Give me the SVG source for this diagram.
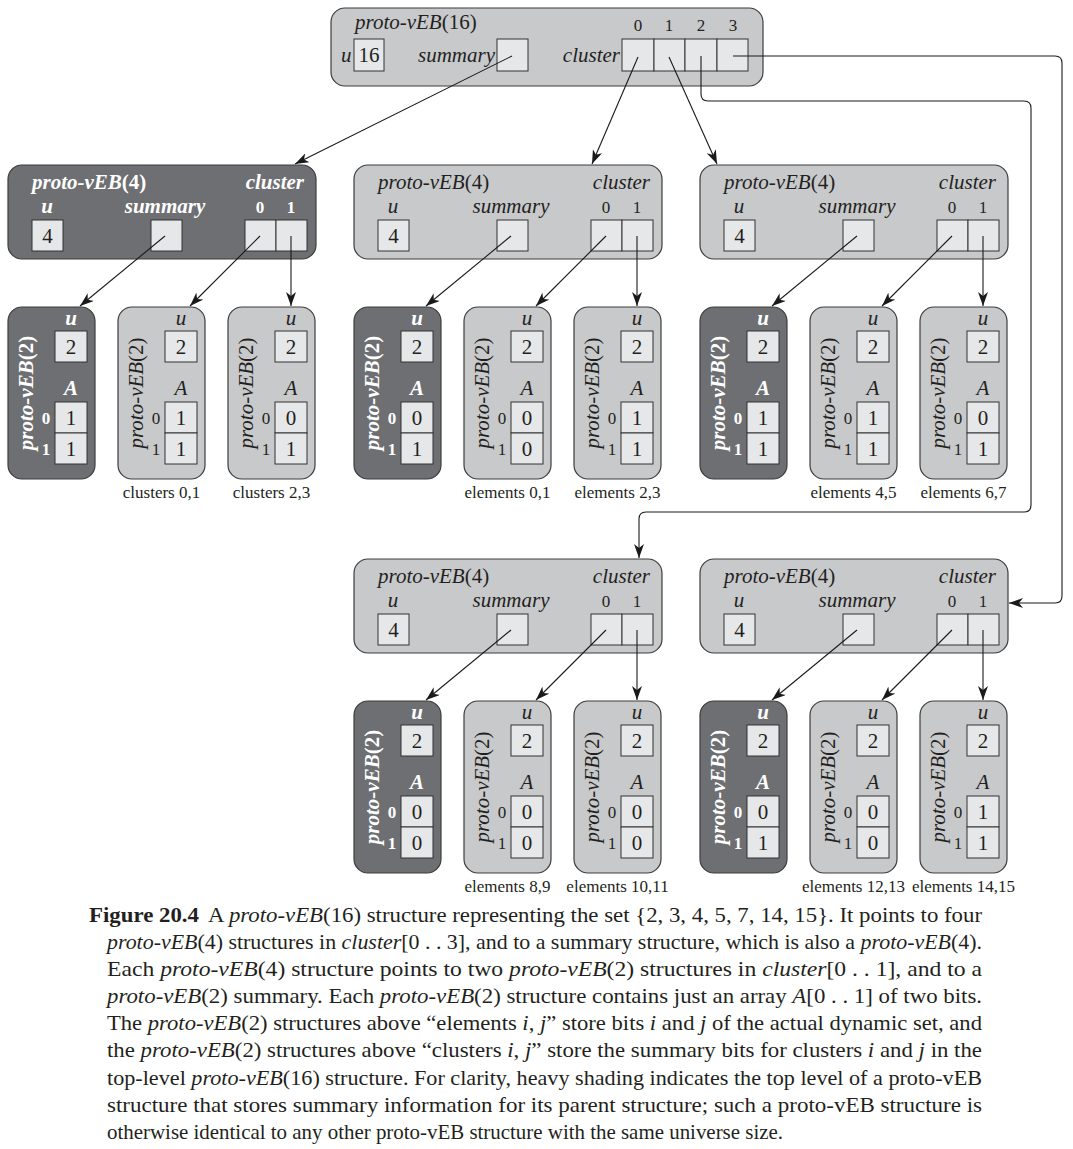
<svg xmlns="http://www.w3.org/2000/svg" width="1073" height="1149" viewBox="0 0 1073 1149">
<style>
.nl{fill:#c8c9cb;stroke:#3c3c3c;stroke-width:1.2}
.nd{fill:#6e6f72;stroke:#3c3c3c;stroke-width:1.2}
.bx{fill:#e6e7e8;stroke:#333;stroke-width:1}
.t{font-family:"Liberation Serif",serif;font-size:21px;fill:#231f20}
.i{font-style:italic}
.w{fill:#fff;font-weight:bold}
.s{font-size:17px}
.c{text-anchor:middle}
.r{text-anchor:end}
.lb{font-family:"Liberation Serif",serif;font-size:17px;fill:#231f20;text-anchor:middle}
.cap{font-family:"Liberation Serif",serif;font-size:21px;fill:#231f20}
.e{stroke:#1a1a1a;stroke-width:1.1;fill:none;marker-end:url(#ah)}
</style>
<defs>
<marker id="ah" markerUnits="userSpaceOnUse" viewBox="0 0 14 10" refX="14" refY="5" markerWidth="14" markerHeight="10" orient="auto">
<path d="M0,0 L14,5 L0,10 L4,5 z" fill="#1a1a1a"/>
</marker>
<g id="p2l">
<rect class="nl" x="0" y="0" width="87" height="172" rx="14"/>
<text class="t i c" x="63" y="18">u</text>
<rect class="bx" x="47" y="24" width="32" height="31"/>
<text class="t c" x="63" y="47">2</text>
<text class="t i c" x="63" y="88">A</text>
<rect class="bx" x="47" y="95" width="32" height="31"/>
<rect class="bx" x="47" y="126" width="32" height="31"/>
<text class="t s c" x="38" y="117">0</text>
<text class="t s c" x="38" y="148">1</text>
<text class="t c" transform="translate(25,86) rotate(-90)"><tspan class="i">proto-vEB</tspan>(2)</text>
</g>
<g id="p2d">
<rect class="nd" x="0" y="0" width="87" height="172" rx="14"/>
<text class="t i w c" x="63" y="18">u</text>
<rect class="bx" x="47" y="24" width="32" height="31"/>
<text class="t c" x="63" y="47">2</text>
<text class="t i w c" x="63" y="88">A</text>
<rect class="bx" x="47" y="95" width="32" height="31"/>
<rect class="bx" x="47" y="126" width="32" height="31"/>
<text class="t s w c" x="38" y="117">0</text>
<text class="t s w c" x="38" y="148">1</text>
<text class="t w c" transform="translate(25,86) rotate(-90)"><tspan class="i">proto-vEB</tspan>(2)</text>
</g>
<g id="p4l">
<rect class="nl" x="0" y="0" width="308" height="94" rx="14"/>
<text class="t" x="24" y="24"><tspan class="i">proto-vEB</tspan>(4)</text>
<text class="t i r" x="296" y="24">cluster</text>
<text class="t i c" x="39" y="48">u</text>
<text class="t i c" x="157" y="48">summary</text>
<text class="t s c" x="252" y="48">0</text>
<text class="t s c" x="283" y="48">1</text>
<rect class="bx" x="24" y="55" width="31" height="31"/>
<text class="t c" x="39.5" y="78">4</text>
<rect class="bx" x="143" y="55" width="31" height="31"/>
<rect class="bx" x="237" y="55" width="31" height="31"/>
<rect class="bx" x="268" y="55" width="31" height="31"/>
</g>
</defs>

<g id="n16">
<rect class="nl" x="331" y="8" width="432" height="78" rx="14"/>
<text class="t" x="355" y="29"><tspan class="i">proto-vEB</tspan>(16)</text>
<text class="t i" x="341" y="62">u</text>
<rect class="bx" x="354" y="39" width="30" height="32"/>
<text class="t c" x="369" y="62">16</text>
<text class="t i r" x="495" y="62">summary</text>
<rect class="bx" x="497" y="39" width="31" height="32"/>
<text class="t i r" x="620" y="62">cluster</text>
<rect class="bx" x="622" y="39" width="32" height="32"/>
<rect class="bx" x="654" y="39" width="31" height="32"/>
<rect class="bx" x="685" y="39" width="32" height="32"/>
<rect class="bx" x="717" y="39" width="31" height="32"/>
<text class="t s c" x="638" y="31">0</text>
<text class="t s c" x="669" y="31">1</text>
<text class="t s c" x="701" y="31">2</text>
<text class="t s c" x="733" y="31">3</text>
</g>

<g id="p4-summary" transform="translate(8,165)">
<rect class="nd" x="0" y="0" width="308" height="94" rx="14"/>
<text class="t w" x="24" y="24"><tspan class="i">proto-vEB</tspan>(4)</text>
<text class="t i w r" x="296" y="24">cluster</text>
<text class="t i w c" x="39" y="48">u</text>
<text class="t i w c" x="157" y="48">summary</text>
<text class="t s w c" x="252" y="48">0</text>
<text class="t s w c" x="283" y="48">1</text>
<rect class="bx" x="24" y="55" width="31" height="31"/>
<text class="t c" x="39.5" y="78">4</text>
<rect class="bx" x="143" y="55" width="31" height="31"/>
<rect class="bx" x="237" y="55" width="31" height="31"/>
<rect class="bx" x="268" y="55" width="31" height="31"/>
</g>
<g id="p4-c0"><use href="#p4l" x="354" y="165"/></g>
<g id="p4-c1"><use href="#p4l" x="700" y="165"/></g>
<g id="p4-c2"><use href="#p4l" x="354" y="559"/></g>
<g id="p4-c3"><use href="#p4l" x="700" y="559"/></g>

<g id="s-sum" transform="translate(8,307)"><use href="#p2d"/><text class="t c" x="63" y="118">1</text><text class="t c" x="63" y="149">1</text></g>
<g id="s-c0" transform="translate(118,307)"><use href="#p2l"/><text class="t c" x="63" y="118">1</text><text class="t c" x="63" y="149">1</text><text class="lb" x="43.5" y="191">clusters 0,1</text></g>
<g id="s-c1" transform="translate(228,307)"><use href="#p2l"/><text class="t c" x="63" y="118">0</text><text class="t c" x="63" y="149">1</text><text class="lb" x="43.5" y="191">clusters 2,3</text></g>

<g id="c0-sum" transform="translate(354,307)"><use href="#p2d"/><text class="t c" x="63" y="118">0</text><text class="t c" x="63" y="149">1</text></g>
<g id="c0-c0" transform="translate(464,307)"><use href="#p2l"/><text class="t c" x="63" y="118">0</text><text class="t c" x="63" y="149">0</text><text class="lb" x="43.5" y="191">elements 0,1</text></g>
<g id="c0-c1" transform="translate(574,307)"><use href="#p2l"/><text class="t c" x="63" y="118">1</text><text class="t c" x="63" y="149">1</text><text class="lb" x="43.5" y="191">elements 2,3</text></g>

<g id="c1-sum" transform="translate(700,307)"><use href="#p2d"/><text class="t c" x="63" y="118">1</text><text class="t c" x="63" y="149">1</text></g>
<g id="c1-c0" transform="translate(810,307)"><use href="#p2l"/><text class="t c" x="63" y="118">1</text><text class="t c" x="63" y="149">1</text><text class="lb" x="43.5" y="191">elements 4,5</text></g>
<g id="c1-c1" transform="translate(920,307)"><use href="#p2l"/><text class="t c" x="63" y="118">0</text><text class="t c" x="63" y="149">1</text><text class="lb" x="43.5" y="191">elements 6,7</text></g>

<g id="c2-sum" transform="translate(354,701)"><use href="#p2d"/><text class="t c" x="63" y="118">0</text><text class="t c" x="63" y="149">0</text></g>
<g id="c2-c0" transform="translate(464,701)"><use href="#p2l"/><text class="t c" x="63" y="118">0</text><text class="t c" x="63" y="149">0</text><text class="lb" x="43.5" y="191">elements 8,9</text></g>
<g id="c2-c1" transform="translate(574,701)"><use href="#p2l"/><text class="t c" x="63" y="118">0</text><text class="t c" x="63" y="149">0</text><text class="lb" x="43.5" y="191">elements 10,11</text></g>

<g id="c3-sum" transform="translate(700,701)"><use href="#p2d"/><text class="t c" x="63" y="118">0</text><text class="t c" x="63" y="149">1</text></g>
<g id="c3-c0" transform="translate(810,701)"><use href="#p2l"/><text class="t c" x="63" y="118">0</text><text class="t c" x="63" y="149">0</text><text class="lb" x="43.5" y="191">elements 12,13</text></g>
<g id="c3-c1" transform="translate(920,701)"><use href="#p2l"/><text class="t c" x="63" y="118">1</text><text class="t c" x="63" y="149">1</text><text class="lb" x="43.5" y="191">elements 14,15</text></g>

<g id="connectors">
<path class="e" d="M512,56 L295,164"/>
<path class="e" d="M638,57 L592,164"/>
<path class="e" d="M669,57 L717,164"/>
<path class="e" d="M701,56 V94 Q701,101 708,101 H1024 Q1031,101 1031,108 V505 Q1031,512 1024,512 H646 Q639,512 639,519 V558"/>
<path class="e" d="M733,56 H1055 Q1062,56 1062,63 V596 Q1062,603 1055,603 H1009"/>

<path class="e" d="M165,236 L80,306"/>
<path class="e" d="M260,236 L190,306"/>
<path class="e" d="M291,236 V306"/>

<path class="e" d="M511,236 L426,306"/>
<path class="e" d="M606,236 L536,306"/>
<path class="e" d="M637,236 V306"/>

<path class="e" d="M857,236 L772,306"/>
<path class="e" d="M952,236 L882,306"/>
<path class="e" d="M983,236 V306"/>

<path class="e" d="M511,630 L426,700"/>
<path class="e" d="M606,630 L536,700"/>
<path class="e" d="M637,630 V700"/>

<path class="e" d="M857,630 L772,700"/>
<path class="e" d="M952,630 L882,700"/>
<path class="e" d="M983,630 V700"/>
</g>

<g id="caption">
<text class="cap" x="89" y="922" font-weight="bold" textLength="110" lengthAdjust="spacingAndGlyphs">Figure 20.4</text>
<text class="cap" x="208" y="922" textLength="774" lengthAdjust="spacingAndGlyphs">A <tspan class="i">proto-vEB</tspan>(16) structure representing the set {2, 3, 4, 5, 7, 14, 15}. It points to four</text>
<text class="cap" x="107" y="949" textLength="875" lengthAdjust="spacingAndGlyphs"><tspan class="i">proto-vEB</tspan>(4) structures in <tspan class="i">cluster</tspan>[0 . . 3], and to a summary structure, which is also a <tspan class="i">proto-vEB</tspan>(4).</text>
<text class="cap" x="107" y="976" textLength="875" lengthAdjust="spacingAndGlyphs">Each <tspan class="i">proto-vEB</tspan>(4) structure points to two <tspan class="i">proto-vEB</tspan>(2) structures in <tspan class="i">cluster</tspan>[0 . . 1], and to a</text>
<text class="cap" x="107" y="1003" textLength="875" lengthAdjust="spacingAndGlyphs"><tspan class="i">proto-vEB</tspan>(2) summary. Each <tspan class="i">proto-vEB</tspan>(2) structure contains just an array <tspan class="i">A</tspan>[0 . . 1] of two bits.</text>
<text class="cap" x="107" y="1030" textLength="875" lengthAdjust="spacingAndGlyphs">The <tspan class="i">proto-vEB</tspan>(2) structures above “elements <tspan class="i">i</tspan>, <tspan class="i">j</tspan>” store bits <tspan class="i">i</tspan> and <tspan class="i">j</tspan> of the actual dynamic set, and</text>
<text class="cap" x="107" y="1057" textLength="875" lengthAdjust="spacingAndGlyphs">the <tspan class="i">proto-vEB</tspan>(2) structures above “clusters <tspan class="i">i</tspan>, <tspan class="i">j</tspan>” store the summary bits for clusters <tspan class="i">i</tspan> and <tspan class="i">j</tspan> in the</text>
<text class="cap" x="107" y="1085" textLength="875" lengthAdjust="spacingAndGlyphs">top-level <tspan class="i">proto-vEB</tspan>(16) structure. For clarity, heavy shading indicates the top level of a proto-vEB</text>
<text class="cap" x="107" y="1112" textLength="875" lengthAdjust="spacingAndGlyphs">structure that stores summary information for its parent structure; such a proto-vEB structure is</text>
<text class="cap" x="107" y="1139" textLength="676" lengthAdjust="spacingAndGlyphs">otherwise identical to any other proto-vEB structure with the same universe size.</text>
</g>
</svg>
